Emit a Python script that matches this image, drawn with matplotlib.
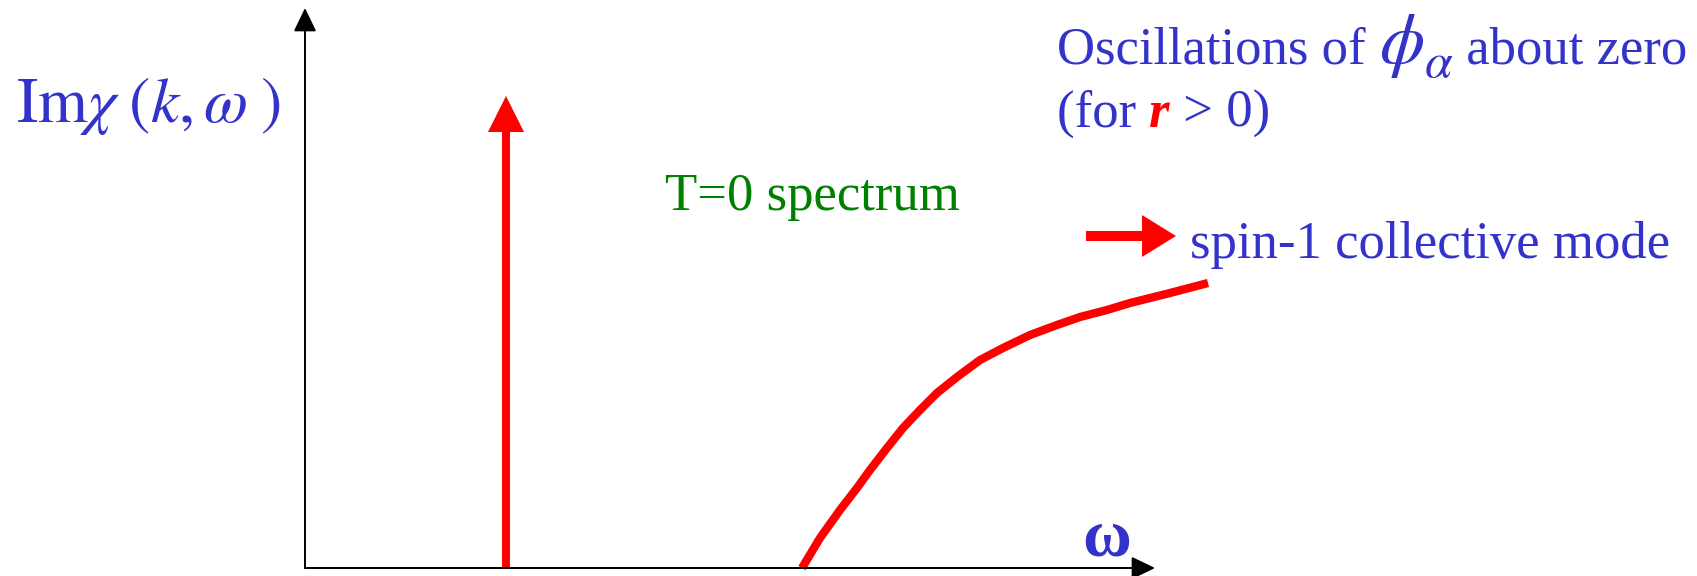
import matplotlib
matplotlib.use("Agg")
import matplotlib.pyplot as plt
from matplotlib.transforms import offset_copy

plt.rcParams['font.family'] = ['Liberation Serif', 'DejaVu Serif']
plt.rcParams['mathtext.fontset'] = 'stix'

BLUE = '#3333CC'
RED = '#FF0000'
GREEN = '#008000'

# delta peak (T=0 spectrum) and the spin-1 continuum
peak_omega = 2.01
peak_height = 4.72
mode_omega = [4.97, 5.15, 5.35, 5.52, 5.65, 5.82, 5.98, 6.15, 6.32, 6.52,
              6.75, 6.98, 7.25, 7.52, 7.75, 8.02, 8.25, 8.65, 9.03]
mode_chi = [0.0, 0.30, 0.58, 0.80, 0.98, 1.20, 1.40, 1.58, 1.75, 1.91,
            2.08, 2.20, 2.33, 2.43, 2.51, 2.58, 2.65, 2.75, 2.85]

# axis extents
omega_max = 8.50
chi_max = 5.60

fig = plt.figure(figsize=(16.97, 5.76), dpi=100)
ax = fig.add_axes([0, 0, 1, 1])
ax.set_xlim(-3.05, 13.92)
ax.set_ylim(-0.08, 5.68)
ax.axis('off')
fig.canvas.draw()
renderer = fig.canvas.get_renderer()


def text_row(x, y, pieces):
    # several differently styled strings one after another on one baseline
    offset = 0
    for s, kw in pieces:
        kw = dict(kw)
        dy = kw.pop('dy', 0)
        t = ax.text(x, y, s, va='baseline', ha='left',
                    transform=offset_copy(ax.transData, fig, x=offset, y=dy,
                                          units='dots'), **kw)
        offset += t.get_window_extent(renderer).width


# axes with arrow heads
head = '-|>,head_length=1.45,head_width=0.7'
ax.annotate('', xy=(omega_max, 0), xytext=(0, 0),
            arrowprops=dict(arrowstyle=head, lw=1.4, color='black',
                            shrinkA=0, shrinkB=0))
ax.annotate('', xy=(0, chi_max), xytext=(0, 0),
            arrowprops=dict(arrowstyle=head, lw=1.4, color='black',
                            shrinkA=0, shrinkB=0))

# delta function peak
ax.arrow(peak_omega, 0, 0, peak_height, width=0.08, head_width=0.36,
         head_length=0.36, length_includes_head=True, color=RED, lw=0)

# collective mode curve
ax.plot(mode_omega, mode_chi, color=RED, lw=6, solid_capstyle='butt',
        solid_joinstyle='round')

# small arrow in front of the legend text
ax.arrow(7.81, 3.32, 0.90, 0, width=0.10, head_width=0.42,
         head_length=0.34, length_includes_head=True, color=RED, lw=0)

ax.text(-2.89, 4.46, r'$\mathrm{Im}\chi\;(k,\omega\;)$', color=BLUE,
        fontsize=46, va='baseline', ha='left')
ax.text(7.77, 0.13, 'ω', color=BLUE, fontsize=48, fontweight='bold',
        va='baseline', ha='left')

ax.text(3.60, 3.58, 'T=0 spectrum', color=GREEN, fontsize=38,
        va='baseline', ha='left')
ax.text(8.85, 3.10, 'spin-1 collective mode', color=BLUE, fontsize=38,
        va='baseline', ha='left')

text_row(7.52, 5.05, [
    ('Oscillations of ', dict(color=BLUE, fontsize=38)),
    (r'$\phi$', dict(color=BLUE, fontsize=52)),
    (r'$\alpha$', dict(color=BLUE, fontsize=36, dy=-14)),
    (' about zero', dict(color=BLUE, fontsize=38)),
])
text_row(7.52, 4.41, [
    ('(for ', dict(color=BLUE, fontsize=38)),
    ('r', dict(color=RED, fontsize=38, fontweight='bold', fontstyle='italic')),
    (' > 0)', dict(color=BLUE, fontsize=38)),
])

fig.savefig('out.png', dpi=100, facecolor='white')
